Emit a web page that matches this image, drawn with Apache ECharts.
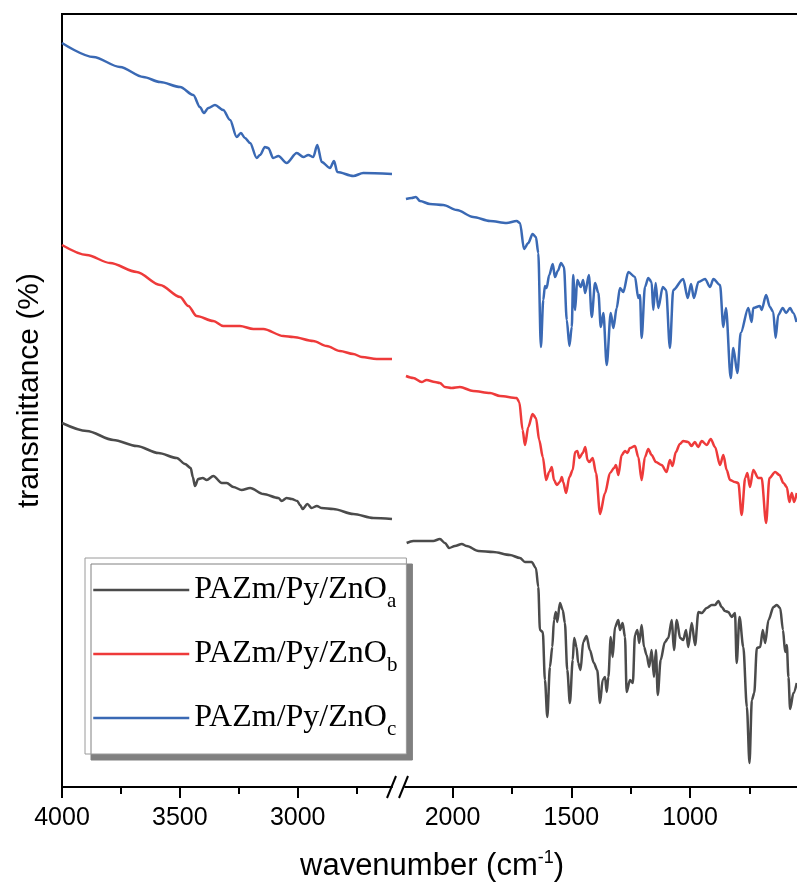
<!DOCTYPE html>
<html>
<head>
<meta charset="utf-8">
<script src="https://cdn.jsdelivr.net/npm/echarts@6.0.0/dist/echarts.min.js"></script>
<style>
  html, body { margin: 0; padding: 0; background: #fff; }
  #main { width: 797px; height: 886px; }
</style>
</head>
<body>
<div id="main"></div>
<script>
// wavenumber (cm-1), transmittance (%)
// a = black, b = red, c = blue ; hi = 4000-2600, lo = 2200-550
var aHi = [[4000,36.4],[3895,35.6],[3782,34.7],[3683,34.1],[3591,33.4],[3513,32.9],[3478,32.3],[3454,31.9],[3445,31.0],[3436,30.1],[3422,30.8],[3403,30.9],[3386,30.7],[3358,31.1],[3322,30.4],[3301,30.4],[3273,30.0],[3238,29.7],[3202,29.9],[3146,29.3],[3082,28.9],[3068,28.6],[3047,28.9],[3025,28.8],[3002,28.6],[2990,28.2],[2979,27.8],[2959,28.3],[2941,27.9],[2919,28.1],[2898,27.9],[2849,27.8],[2764,27.3],[2679,26.9],[2600,26.8]];
var aLo = [[2193,24.4],[2165,24.6],[2123,24.6],[2081,24.6],[2053,24.8],[2032,24.4],[2014,23.9],[1990,24.1],[1961,24.3],[1940,24.1],[1891,23.6],[1828,23.5],[1758,23.2],[1716,22.9],[1695,22.5],[1667,22.5],[1649,21.9],[1639,20.0],[1632,15.7],[1620,15.5],[1611,10.7],[1601,7.0],[1590,12.0],[1580,14.0],[1573,16.7],[1565,17.5],[1559,16.5],[1548,18.4],[1536,17.7],[1527,16.4],[1517,11.7],[1506,8.4],[1494,12.7],[1488,14.9],[1478,14.0],[1471,12.4],[1461,11.7],[1450,14.5],[1436,15.1],[1422,13.7],[1405,12.4],[1391,11.7],[1379,8.4],[1368,10.7],[1358,11.0],[1351,9.5],[1344,11.0],[1334,15.0],[1326,13.0],[1316,16.0],[1302,16.7],[1295,15.7],[1284,16.4],[1274,15.0],[1267,9.5],[1253,10.7],[1241,10.4],[1232,15.2],[1222,15.7],[1214,14.4],[1204,16.2],[1194,14.0],[1183,13.2],[1172,12.0],[1162,13.7],[1152,11.0],[1144,13.7],[1136,9.2],[1124,12.7],[1106,14.5],[1092,14.9],[1077,16.7],[1068,13.7],[1056,16.7],[1042,14.9],[1029,14.7],[1017,15.7],[1008,14.0],[993,16.4],[979,14.2],[965,17.5],[951,17.4],[930,17.9],[909,18.2],[895,18.2],[881,18.6],[867,18.0],[853,17.6],[839,17.5],[825,17.0],[811,17.4],[804,12.4],[792,17.0],[776,14.0],[761,8.0],[750,2.4],[740,8.7],[730,9.4],[719,13.9],[705,14.0],[694,15.7],[684,14.4],[670,16.7],[649,18.0],[635,18.2],[621,17.9],[609,15.7],[600,13.5],[593,14.2],[586,11.0],[579,7.8],[565,9.4],[551,10.4]];
var bHi = [[4000,54.2],[3895,53.2],[3796,52.4],[3683,51.5],[3584,50.2],[3499,49.0],[3464,48.1],[3429,47.1],[3358,46.6],[3316,46.1],[3245,46.1],[3188,45.8],[3146,45.8],[3061,45.1],[3019,45.0],[2934,44.6],[2877,44.1],[2821,43.6],[2764,43.3],[2728,43.0],[2665,42.8],[2600,42.8]];
var bLo = [[2196,41.1],[2165,40.9],[2130,40.5],[2109,40.7],[2074,40.5],[2053,40.4],[2032,40.0],[2004,39.9],[1969,40.0],[1913,39.6],[1842,39.4],[1800,39.1],[1730,38.9],[1719,38.5],[1705,35.7],[1695,34.2],[1681,36.0],[1663,37.3],[1649,36.9],[1635,34.7],[1620,33.0],[1606,30.7],[1593,31.5],[1582,32.0],[1573,30.7],[1561,30.2],[1548,30.5],[1540,31.0],[1534,30.5],[1522,29.4],[1508,31.0],[1494,31.7],[1484,33.5],[1475,33.6],[1466,32.9],[1452,33.4],[1441,34.0],[1432,32.7],[1424,32.5],[1410,32.9],[1396,31.4],[1379,27.3],[1358,29.4],[1337,31.4],[1320,31.9],[1312,32.2],[1302,31.2],[1288,33.2],[1274,33.6],[1264,33.4],[1253,33.9],[1232,34.1],[1218,33.0],[1204,30.7],[1190,33.0],[1176,33.8],[1162,33.2],[1144,32.5],[1120,32.2],[1099,31.5],[1085,32.7],[1074,32.1],[1060,33.5],[1043,34.3],[1029,34.6],[1008,34.5],[994,34.1],[980,34.5],[966,34.0],[951,34.6],[930,34.2],[913,34.8],[895,34.0],[874,32.2],[860,33.2],[846,31.7],[832,30.7],[811,30.5],[797,30.4],[783,27.2],[768,30.9],[759,31.4],[748,30.0],[734,31.7],[713,30.9],[699,30.9],[680,26.4],[666,30.9],[642,31.5],[624,31.2],[607,30.4],[593,30.0],[582,28.5],[572,29.4],[562,28.5],[551,29.4]];
var cHi = [[4000,74.4],[3867,73.0],[3754,72.0],[3655,71.0],[3584,70.5],[3499,70.0],[3443,69.2],[3415,68.0],[3398,67.4],[3379,67.9],[3351,68.2],[3316,67.7],[3287,66.7],[3259,65.0],[3241,65.4],[3224,64.9],[3202,64.4],[3174,62.9],[3160,63.2],[3139,64.0],[3125,63.9],[3104,62.9],[3082,63.1],[3047,62.4],[3004,63.4],[2976,63.0],[2955,63.2],[2934,63.0],[2917,64.2],[2898,62.5],[2863,61.9],[2846,62.6],[2832,61.5],[2764,61.1],[2722,61.4],[2600,61.3]];
var cLo = [[2196,58.8],[2172,58.9],[2154,59.0],[2137,58.6],[2095,58.3],[2039,58.2],[1982,57.7],[1913,57.0],[1842,56.6],[1772,56.4],[1730,56.6],[1716,56.4],[1699,53.8],[1681,54.4],[1663,55.3],[1649,55.0],[1639,53.4],[1628,44.0],[1618,48.7],[1611,50.1],[1604,49.9],[1593,51.2],[1578,52.3],[1569,51.0],[1557,51.6],[1543,52.4],[1531,52.0],[1519,46.7],[1508,44.1],[1498,46.0],[1492,51.2],[1484,47.7],[1475,50.7],[1460,50.0],[1450,50.7],[1442,49.4],[1426,51.2],[1414,47.0],[1400,50.4],[1386,49.4],[1376,46.0],[1365,47.4],[1351,42.2],[1334,47.4],[1323,45.9],[1309,47.9],[1295,49.9],[1281,49.5],[1260,51.5],[1232,51.0],[1218,48.9],[1211,49.2],[1204,44.9],[1190,50.0],[1176,50.9],[1162,50.5],[1155,47.7],[1145,50.4],[1134,47.9],[1115,50.0],[1101,49.7],[1085,43.9],[1071,49.7],[1029,50.8],[1010,48.9],[996,50.3],[984,48.9],[965,50.5],[937,50.8],[916,50.0],[902,50.8],[874,50.2],[860,46.0],[849,47.9],[829,40.9],[818,43.9],[801,41.4],[787,45.4],[755,47.9],[741,46.5],[734,47.9],[706,48.1],[699,47.7],[680,49.2],[664,48.0],[650,47.5],[640,44.9],[629,47.2],[610,47.9],[596,47.4],[579,47.9],[566,47.4],[552,46.5]];

var names = ['PAZm/Py/ZnOa', 'PAZm/Py/ZnOb', 'PAZm/Py/ZnOc'];
var colors = ['#4b4b4b', '#ee3a3a', '#3a69b4'];
var hiTicks = [4000, 3500, 3000];
var hiMinor = [3750, 3250, 2750];
var loTicks = [2000, 1500, 1000];
var loMinor = [1750, 1250, 750];

var chart = echarts.init(document.getElementById('main'));

function mkSeries(name, color, data, idx) {
   return {
      name: name,
      type: 'line',
      xAxisIndex: idx * 2,
      yAxisIndex: idx,
      data: data,
      symbol: 'none',
      smooth: 0.3,
      smoothMonotone: 'x',
      lineStyle: { color: color, width: 2.5 },
      itemStyle: { color: color },
      z: 3
   };
}

function mkAxis(grid, min, max, ticks, minor) {
   return [{
      gridIndex: grid, type: 'value', inverse: true, min: min, max: max, position: 'bottom',
      axisLine: { show: true, lineStyle: { color: '#000', width: 2 } },
      axisTick: { show: true, length: 11, lineStyle: { color: '#000', width: 2 }, customValues: ticks },
      axisLabel: {
         margin: 19, customValues: ticks, fontSize: 25, color: '#000', fontFamily: 'Liberation Sans',
         formatter: function (v) { return String(v); }
      },
      splitLine: { show: false }
   }, {
      gridIndex: grid, type: 'value', inverse: true, min: min, max: max, position: 'bottom',
      axisLine: { show: false },
      axisTick: { show: true, length: 7, lineStyle: { color: '#000', width: 2 }, customValues: minor },
      axisLabel: { show: false },
      splitLine: { show: false }
   }];
}

var option = {
   backgroundColor: '#fff',
   animation: false,
   title: {
      text: '{a|wavenumber (cm}{s|-1}{a|)}',
      left: 300,
      top: 849,
      padding: 0,
      textStyle: {
         fontWeight: 'normal',
         rich: {
            a: { fontSize: 31, fontWeight: 'normal', fontFamily: 'Liberation Sans', color: '#000', lineHeight: 34 },
            s: { fontSize: 18, fontWeight: 'normal', fontFamily: 'Liberation Sans', color: '#000', lineHeight: 18, verticalAlign: 'top' }
         }
      }
   },
   grid: [
      { left: 62, top: 14, width: 330, height: 773 },
      { left: 405, top: 14, right: 0, height: 773 }
   ],
   xAxis: mkAxis(0, 2600, 4000, hiTicks, hiMinor).concat(mkAxis(1, 550, 2200, loTicks, loMinor)),
   yAxis: [{
      gridIndex: 0, type: 'value', min: 0, max: 77.3,
      axisLine: { show: true, lineStyle: { color: '#000', width: 2 } },
      axisTick: { show: false },
      axisLabel: { show: false },
      splitLine: { show: false },
      name: 'transmittance (%)',
      nameLocation: 'middle',
      nameGap: 17,
      nameRotate: 90,
      nameTextStyle: { fontSize: 30, fontFamily: 'Liberation Sans', color: '#000', padding: [0, 0, 0, 20] }
   }, {
      gridIndex: 1, type: 'value', min: 0, max: 77.3, show: false
   }],
   legend: {
      data: names,
      orient: 'vertical',
      left: 85,
      top: 558,
      padding: [16, 9, 14, 7],
      itemGap: 26,
      itemWidth: 96,
      itemHeight: 14,
      backgroundColor: '#fff',
      borderColor: '#9a9a9a',
      borderWidth: 1,
      borderRadius: 0,
      shadowColor: '#808080',
      shadowBlur: 0,
      shadowOffsetX: 6,
      shadowOffsetY: 6,
      itemStyle: { opacity: 0 },
      lineStyle: { width: 2.5 },
      formatter: function (n) {
         return '{n|' + n.slice(0, -1) + '}{s|' + n.slice(-1) + '}';
      },
      textStyle: {
         rich: {
            n: { fontSize: 32, fontFamily: 'Liberation Serif', color: '#000', lineHeight: 44 },
            s: { fontSize: 21, fontFamily: 'Liberation Serif', color: '#000', lineHeight: 14, verticalAlign: 'bottom' }
         }
      }
   },
   graphic: [
      { type: 'line', shape: { x1: 61, y1: 14, x2: 797, y2: 14 }, style: { stroke: '#000', lineWidth: 2 } },
      { type: 'rect', shape: { x: 393, y: 780, width: 11, height: 14 }, style: { fill: '#fff' } },
      { type: 'line', shape: { x1: 387, y1: 798, x2: 396, y2: 776 }, style: { stroke: '#000', lineWidth: 2 } },
      { type: 'line', shape: { x1: 399, y1: 798, x2: 408, y2: 776 }, style: { stroke: '#000', lineWidth: 2 } }
   ],
   series: [
      mkSeries(names[0], colors[0], aHi, 0),
      mkSeries(names[1], colors[1], bHi, 0),
      mkSeries(names[2], colors[2], cHi, 0),
      mkSeries(names[0], colors[0], aLo, 1),
      mkSeries(names[1], colors[1], bLo, 1),
      mkSeries(names[2], colors[2], cLo, 1)
   ]
};

chart.setOption(option);
</script>
</body>
</html>
